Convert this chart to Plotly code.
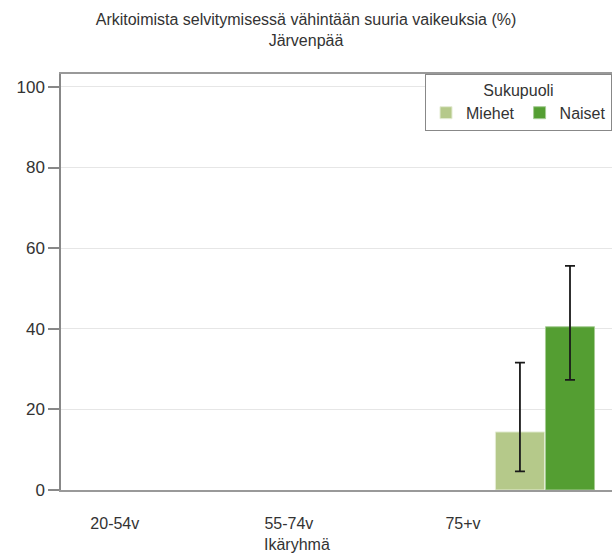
import plotly.graph_objects as go

categories = ["20-54v", "55-74v", "75+v"]
miehet = [None, None, 14.4]
miehet_hi = [None, None, 31.6]
miehet_lo = [None, None, 4.6]
naiset = [None, None, 40.5]
naiset_hi = [None, None, 55.6]
naiset_lo = [None, None, 27.3]


def err(vals, hi, lo):
    up = [h - v if v is not None else None for v, h in zip(vals, hi)]
    down = [v - l if v is not None else None for v, l in zip(vals, lo)]
    return dict(type="data", symmetric=False, array=up, arrayminus=down,
                color="#1a1a1a", thickness=1.8, width=5)


fig = go.Figure()

fig.add_trace(go.Bar(
    x=categories, y=miehet, name="Miehet",
    marker=dict(color="#b5c98a", line=dict(color="#e4ecd4", width=1)),
    error_y=err(miehet, miehet_hi, miehet_lo)
))
fig.add_trace(go.Bar(
    x=categories, y=naiset, name="Naiset",
    marker=dict(color="#549e32", line=dict(color="#a6cc94", width=1)),
    error_y=err(naiset, naiset_hi, naiset_lo)
))

# axis title sits under the middle label
fig.add_annotation(
    x="55-74v", y=0, xref="x", yref="paper", xshift=-74, yshift=-44,
    text="Ikäryhmä", showarrow=False,
    font=dict(size=16, color="#333333"), yanchor="top"
)

fig.update_layout(
    width=612, height=553,
    margin=dict(l=61, r=0, t=74, b=63),
    paper_bgcolor="white", plot_bgcolor="white",
    font=dict(family="Liberation Sans, Arial, sans-serif", color="#333333"),
    title=dict(
        text="Arkitoimista selvitymisessä vähintään suuria vaikeuksia (%)<br>Järvenpää",
        x=0.5, xanchor="center", y=0.955, yanchor="top",
        font=dict(size=16, color="#333333")
    ),
    barmode="group", bargap=0.425, bargroupgap=0.02,
    showlegend=True,
    legend=dict(
        title=dict(text="Sukupuoli", side="top center", font=dict(size=16)),
        orientation="h", x=1, xanchor="right", y=1, yanchor="top",
        bordercolor="#888888", borderwidth=1, bgcolor="white",
        font=dict(size=16), itemwidth=30
    ),
    xaxis=dict(
        type="category", range=[-0.78, 2.385],
        showline=True, linecolor="#999999", linewidth=1.5, mirror=True,
        showgrid=False, ticks="", ticklabelshift=-82, ticklabelstandoff=18,
        tickfont=dict(size=16, color="#333333")
    ),
    yaxis=dict(
        range=[0, 103.2], tickvals=[0, 20, 40, 60, 80, 100],
        showline=True, linecolor="#888888", linewidth=1.5,
        ticks="outside", ticklen=11, tickcolor="#888888", tickwidth=1.5,
        showgrid=True, gridcolor="#e6e6e6", gridwidth=1,
        zeroline=False, tickfont=dict(size=17, color="#333333")
    )
)

fig.write_html("out.html", config={"displayModeBar": False},
               post_script="document.body.style.margin='0';")
